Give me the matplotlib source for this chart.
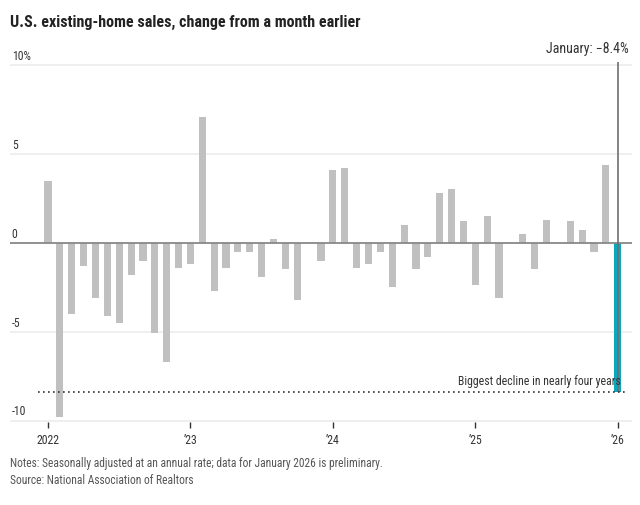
import matplotlib
matplotlib.use('Agg')
import matplotlib.pyplot as plt
import matplotlib.transforms as mtrans
import numpy as np

plt.rcParams['font.family'] = ['Roboto Condensed', 'DejaVu Sans']

# monthly change in existing-home sales, Jan 2022 .. Jan 2026 (%)
vals_2022 = [3.5, -9.8, -4.0, -1.3, -3.1, -4.1, -4.5, -1.8, -1.0, -5.1, -6.7, -1.4]
vals_2023 = [-1.2, 7.1, -2.7, -1.4, -0.5, -0.5, -1.9, 0.2, -1.5, -3.2, 0.0, -1.0]
vals_2024 = [4.1, 4.2, -1.4, -1.2, -0.5, -2.5, 1.0, -1.5, -0.8, 2.8, 3.0, 1.2]
vals_2025 = [-2.4, 1.5, -3.1, 0.0, 0.5, -1.5, 1.3, 0.0, 1.2, 0.7, -0.5, 4.4]
vals_2026 = [-8.4]
values = vals_2022 + vals_2023 + vals_2024 + vals_2025 + vals_2026

year_ticks = [0, 12, 24, 36, 48]
year_labels = ['2022', "\u201923", "\u201924", "\u201925", "\u201926"]
y_ticks = [10, 5, 0, -5, -10]
y_labels = ['10%', '5', '0', '-5', '-10']

latest = values[-1]
n = len(values)
x = np.arange(n)

fig = plt.figure(figsize=(6.4, 5.05), dpi=100)
W, H = 640, 505
ax = fig.add_axes([10 / W, 1 - 422 / H, 622 / W, 382 / H])
ax.set_xlim(-3.2, 49.2)
ax.set_ylim(-10.08, 11.41)

# gridlines
for t in y_ticks:
    if t == 0:
        ax.axhline(t, color='#888888', lw=1.3, zorder=3)
    else:
        ax.axhline(t, color='#eeeeee', lw=1.3, zorder=0)

# y labels sitting on top of gridlines
tr = mtrans.blended_transform_factory(ax.transAxes, ax.transData)
for t, lab in zip(y_ticks, y_labels):
    ax.text(0.003, t + 0.12, lab, transform=tr, ha='left', va='bottom',
            fontsize=8.5, color='#333333')

colors = ['#c0c0c0'] * (n - 1) + ['#0aa7bf']
ax.bar(x, values, width=0.6, color=colors, zorder=2)

# highlight line for latest month
ax.vlines(x[-1], latest, 10.17, color='#6f6f6f', lw=1.2, zorder=4)
ax.text(x[-1] + 0.95, 10.5, 'January: \u2212%.1f%%' % abs(latest), ha='right', va='bottom',
        fontsize=10, color='#333333')

# reference line at latest value
ax.hlines(latest, -0.85, 48.8, colors='#333333', linestyles=(0, (1, 2)), lw=1.2, zorder=5)
ax.text(x[-1] + 0.25, latest + 0.22, 'Biggest decline in nearly four years', ha='right', va='bottom',
        fontsize=8.5, color='#333333', zorder=6)

ax.set_xticks(year_ticks)
ax.set_xticklabels(year_labels)
ax.set_yticks([])
ax.tick_params(axis='x', length=4, width=1, color='#333333', labelsize=8.5,
               labelcolor='#333333', pad=5)
for s in ax.spines.values():
    s.set_visible(False)

fig.text(10 / W, 1 - 22 / H, 'U.S. existing-home sales, change from a month earlier',
         ha='left', va='center', fontsize=11.5, fontweight='bold', color='#222222')
fig.text(10 / W, 1 - 463 / H, 'Notes: Seasonally adjusted at an annual rate; data for January 2026 is preliminary.',
         ha='left', va='center', fontsize=8.3, color='#555555')
fig.text(10 / W, 1 - 481 / H, 'Source: National Association of Realtors',
         ha='left', va='center', fontsize=8.3, color='#555555')

fig.savefig('out.png', dpi=100)
